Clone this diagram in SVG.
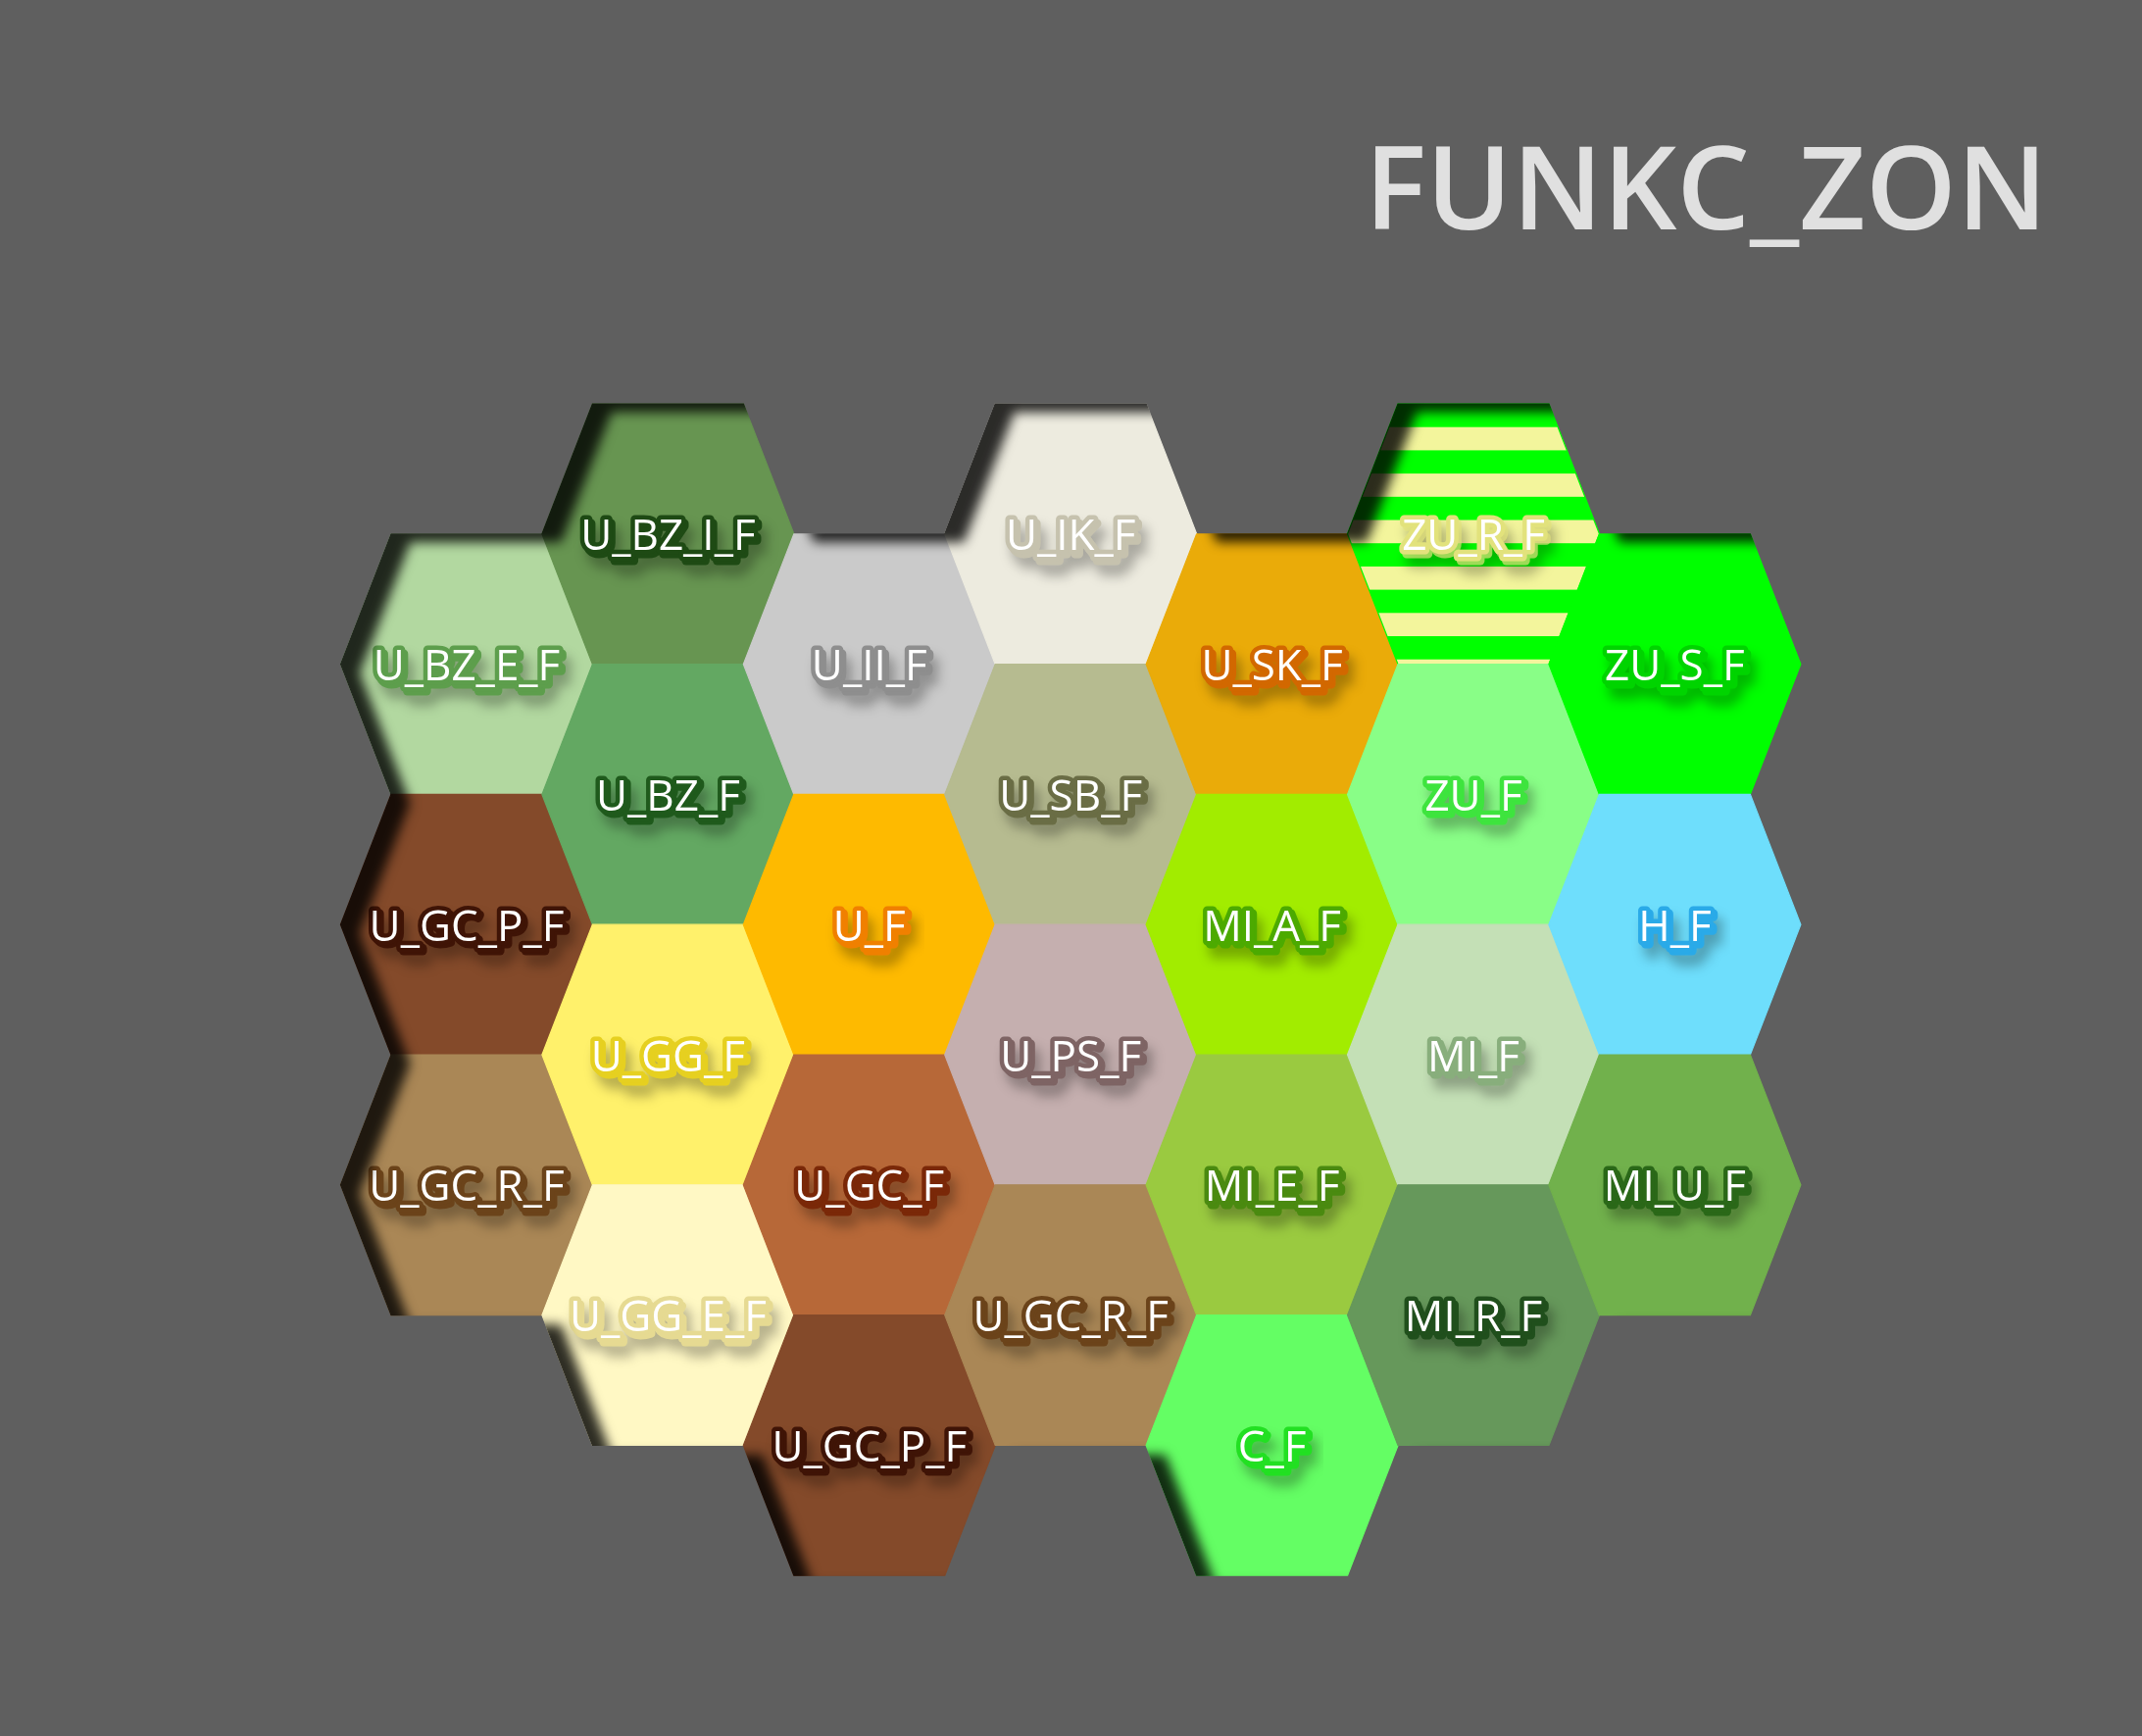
<svg xmlns="http://www.w3.org/2000/svg" xmlns:xlink="http://www.w3.org/1999/xlink" width="2185" height="1771" viewBox="0 0 2185 1771">
<style>
.hex{stroke-width:1.2}
.lbl text{font-family:"Open Sans","Noto Sans","Liberation Sans",sans-serif;font-size:44px;text-anchor:middle}
.o{fill:var(--c);stroke:var(--c);stroke-width:9;stroke-linejoin:round}
.m{fill:#fff;stroke:var(--c);stroke-width:9;stroke-linejoin:round;paint-order:stroke}
.title{font-family:"Open Sans","Noto Sans","Liberation Sans",sans-serif;font-size:118px;font-weight:600;fill:#e0e0e0}
</style>
<defs>
<polygon id="hx" points="-128.5,0 -77,-132.8 77,-132.8 128.5,0 77,132.8 -77,132.8"/>
<pattern id="stripes" patternUnits="userSpaceOnUse" x="0" y="-132.8" width="400" height="47.4">
<rect x="0" y="0" width="400" height="23.7" fill="#00ff00"/>
<rect x="0" y="23.7" width="400" height="23.7" fill="#f3f59c"/>
</pattern>
<filter id="inset" x="-5%" y="-5%" width="110%" height="110%" color-interpolation-filters="sRGB">
<feComponentTransfer in="SourceAlpha" result="inv"><feFuncA type="table" tableValues="1 0"/></feComponentTransfer>
<feOffset dx="20" dy="9" result="off"/>
<feGaussianBlur stdDeviation="6" result="bl"/>
<feComposite in="bl" in2="SourceAlpha" operator="in" result="sh"/>
<feFlood flood-color="#000" flood-opacity="0.82"/>
<feComposite in2="sh" operator="in" result="shc"/>
<feMerge><feMergeNode in="SourceGraphic"/><feMergeNode in="shc"/></feMerge>
</filter>
<filter id="tsh" x="-20%" y="-60%" width="140%" height="220%" color-interpolation-filters="sRGB">
<feGaussianBlur in="SourceAlpha" stdDeviation="6"/>
<feOffset dx="6" dy="11" result="b"/>
<feFlood flood-color="#000" flood-opacity="0.28"/>
<feComposite in2="b" operator="in"/>
<feMerge><feMergeNode/><feMergeNode in="SourceGraphic"/></feMerge>
</filter>
</defs>
<rect width="2185" height="1771" fill="#5f5f5f"/>
<text class="title" x="1392" y="234">FUNKC_ZON</text>
<g id="connectors"/>
<g id="mosaic" filter="url(#inset)">
<g id="u_bz_e_f" transform="translate(476,677.6)"><use href="#hx" class="hex" fill="#b2d8a0" stroke="#b2d8a0"/><g class="lbl" filter="url(#tsh)" style="--c:#5d9e4c"><text class="o" x="3" y="20">U_BZ_E_F</text><text class="m" x="0" y="16.5">U_BZ_E_F</text></g></g>
<g id="u_gc_p_f_1" transform="translate(476,943.2)"><use href="#hx" class="hex" fill="#844a2a" stroke="#844a2a"/><g class="lbl" filter="url(#tsh)" style="--c:#3f1406"><text class="o" x="3" y="20">U_GC_P_F</text><text class="m" x="0" y="16.5">U_GC_P_F</text></g></g>
<g id="u_gc_r_f_1" transform="translate(476,1208.8)"><use href="#hx" class="hex" fill="#aa8756" stroke="#aa8756"/><g class="lbl" filter="url(#tsh)" style="--c:#6b431a"><text class="o" x="3" y="20">U_GC_R_F</text><text class="m" x="0" y="16.5">U_GC_R_F</text></g></g>
<g id="u_bz_i_f" transform="translate(681.4,544.8)"><use href="#hx" class="hex" fill="#679551" stroke="#679551"/><g class="lbl" filter="url(#tsh)" style="--c:#1e4a14"><text class="o" x="3" y="20">U_BZ_I_F</text><text class="m" x="0" y="16.5">U_BZ_I_F</text></g></g>
<g id="u_bz_f" transform="translate(681.4,810.4)"><use href="#hx" class="hex" fill="#63a862" stroke="#63a862"/><g class="lbl" filter="url(#tsh)" style="--c:#1f5a1c"><text class="o" x="3" y="20">U_BZ_F</text><text class="m" x="0" y="16.5">U_BZ_F</text></g></g>
<g id="u_gg_f" transform="translate(681.4,1076)"><use href="#hx" class="hex" fill="#fff16b" stroke="#fff16b"/><g class="lbl" filter="url(#tsh)" style="--c:#e6d020"><text class="o" x="3" y="20">U_GG_F</text><text class="m" x="0" y="16.5">U_GG_F</text></g></g>
<g id="u_gg_e_f" transform="translate(681.4,1341.6)"><use href="#hx" class="hex" fill="#fff8c4" stroke="#fff8c4"/><g class="lbl" filter="url(#tsh)" style="--c:#e6da92"><text class="o" x="3" y="20">U_GG_E_F</text><text class="m" x="0" y="16.5">U_GG_E_F</text></g></g>
<g id="u_ii_f" transform="translate(886.8,677.6)"><use href="#hx" class="hex" fill="#cacaca" stroke="#cacaca"/><g class="lbl" filter="url(#tsh)" style="--c:#8e8e8e"><text class="o" x="3" y="20">U_II_F</text><text class="m" x="0" y="16.5">U_II_F</text></g></g>
<g id="u_f" transform="translate(886.8,943.2)"><use href="#hx" class="hex" fill="#feba00" stroke="#feba00"/><g class="lbl" filter="url(#tsh)" style="--c:#f08000"><text class="o" x="3" y="20">U_F</text><text class="m" x="0" y="16.5">U_F</text></g></g>
<g id="u_gc_f" transform="translate(886.8,1208.8)"><use href="#hx" class="hex" fill="#b76838" stroke="#b76838"/><g class="lbl" filter="url(#tsh)" style="--c:#7a2808"><text class="o" x="3" y="20">U_GC_F</text><text class="m" x="0" y="16.5">U_GC_F</text></g></g>
<g id="u_gc_p_f_2" transform="translate(886.8,1474.4)"><use href="#hx" class="hex" fill="#844a2a" stroke="#844a2a"/><g class="lbl" filter="url(#tsh)" style="--c:#3f1406"><text class="o" x="3" y="20">U_GC_P_F</text><text class="m" x="0" y="16.5">U_GC_P_F</text></g></g>
<g id="u_ik_f" transform="translate(1092.2,544.8)"><use href="#hx" class="hex" fill="#edebdf" stroke="#edebdf"/><g class="lbl" filter="url(#tsh)" style="--c:#c6c2ae"><text class="o" x="3" y="20">U_IK_F</text><text class="m" x="0" y="16.5">U_IK_F</text></g></g>
<g id="u_sb_f" transform="translate(1092.2,810.4)"><use href="#hx" class="hex" fill="#b6bb90" stroke="#b6bb90"/><g class="lbl" filter="url(#tsh)" style="--c:#6a6d45"><text class="o" x="3" y="20">U_SB_F</text><text class="m" x="0" y="16.5">U_SB_F</text></g></g>
<g id="u_ps_f" transform="translate(1092.2,1076)"><use href="#hx" class="hex" fill="#c5afaf" stroke="#c5afaf"/><g class="lbl" filter="url(#tsh)" style="--c:#7e6464"><text class="o" x="3" y="20">U_PS_F</text><text class="m" x="0" y="16.5">U_PS_F</text></g></g>
<g id="u_gc_r_f_2" transform="translate(1092.2,1341.6)"><use href="#hx" class="hex" fill="#aa8756" stroke="#aa8756"/><g class="lbl" filter="url(#tsh)" style="--c:#6b431a"><text class="o" x="3" y="20">U_GC_R_F</text><text class="m" x="0" y="16.5">U_GC_R_F</text></g></g>
<g id="u_sk_f" transform="translate(1297.6,677.6)"><use href="#hx" class="hex" fill="#eaab09" stroke="#eaab09"/><g class="lbl" filter="url(#tsh)" style="--c:#d26800"><text class="o" x="3" y="20">U_SK_F</text><text class="m" x="0" y="16.5">U_SK_F</text></g></g>
<g id="mi_a_f" transform="translate(1297.6,943.2)"><use href="#hx" class="hex" fill="#a2ec00" stroke="#a2ec00"/><g class="lbl" filter="url(#tsh)" style="--c:#4caa00"><text class="o" x="3" y="20">MI_A_F</text><text class="m" x="0" y="16.5">MI_A_F</text></g></g>
<g id="mi_e_f" transform="translate(1297.6,1208.8)"><use href="#hx" class="hex" fill="#9aca40" stroke="#9aca40"/><g class="lbl" filter="url(#tsh)" style="--c:#4a8a10"><text class="o" x="3" y="20">MI_E_F</text><text class="m" x="0" y="16.5">MI_E_F</text></g></g>
<g id="c_f" transform="translate(1297.6,1474.4)"><use href="#hx" class="hex" fill="#64fe64" stroke="#64fe64"/><g class="lbl" filter="url(#tsh)" style="--c:#22e022"><text class="o" x="3" y="20">C_F</text><text class="m" x="0" y="16.5">C_F</text></g></g>
<g id="zu_r_f" transform="translate(1503,544.8)"><use href="#hx" class="hex" fill="url(#stripes)" stroke="#00ff00" stroke-width="0.6"/><g class="lbl" filter="url(#tsh)" style="--c:#e2e27c"><text class="o" x="3" y="20" opacity="0.7">ZU_R_F</text><text class="m" x="0" y="16.5">ZU_R_F</text></g></g>
<g id="zu_f" transform="translate(1503,810.4)"><use href="#hx" class="hex" fill="#89fe87" stroke="#89fe87"/><g class="lbl" filter="url(#tsh)" style="--c:#3ee43e"><text class="o" x="3" y="20">ZU_F</text><text class="m" x="0" y="16.5">ZU_F</text></g></g>
<g id="mi_f" transform="translate(1503,1076)"><use href="#hx" class="hex" fill="#c4e0b6" stroke="#c4e0b6"/><g class="lbl" filter="url(#tsh)" style="--c:#88ae7c"><text class="o" x="3" y="20">MI_F</text><text class="m" x="0" y="16.5">MI_F</text></g></g>
<g id="mi_r_f" transform="translate(1503,1341.6)"><use href="#hx" class="hex" fill="#66985b" stroke="#66985b"/><g class="lbl" filter="url(#tsh)" style="--c:#204f1c"><text class="o" x="3" y="20">MI_R_F</text><text class="m" x="0" y="16.5">MI_R_F</text></g></g>
<g id="zu_s_f" transform="translate(1708.4,677.6)"><use href="#hx" class="hex" fill="#00ff00" stroke="#00ff00"/><g class="lbl" filter="url(#tsh)" style="--c:#00d400"><text class="o" x="3" y="20">ZU_S_F</text><text class="m" x="0" y="16.5">ZU_S_F</text></g></g>
<g id="h_f" transform="translate(1708.4,943.2)"><use href="#hx" class="hex" fill="#6edefc" stroke="#6edefc"/><g class="lbl" filter="url(#tsh)" style="--c:#2aaae8"><text class="o" x="3" y="20">H_F</text><text class="m" x="0" y="16.5">H_F</text></g></g>
<g id="mi_u_f" transform="translate(1708.4,1208.8)"><use href="#hx" class="hex" fill="#71b14c" stroke="#71b14c"/><g class="lbl" filter="url(#tsh)" style="--c:#2a6818"><text class="o" x="3" y="20">MI_U_F</text><text class="m" x="0" y="16.5">MI_U_F</text></g></g>
</g>
</svg>
